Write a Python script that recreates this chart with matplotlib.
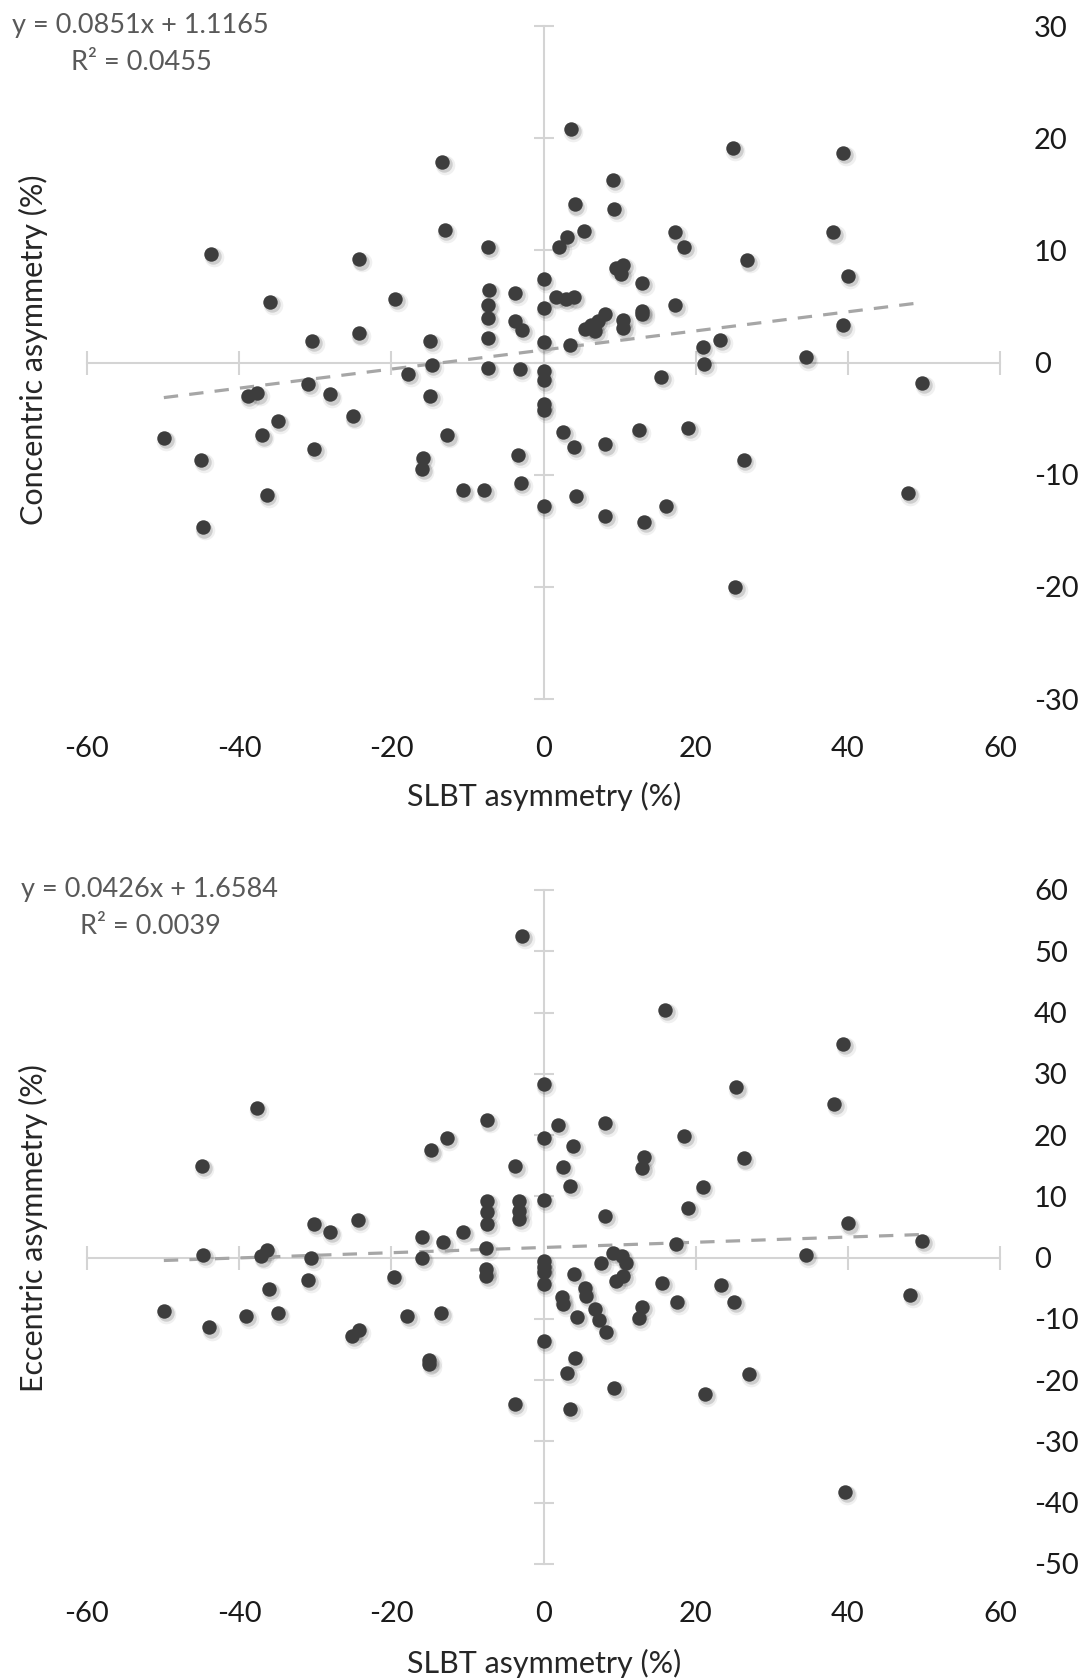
import matplotlib
matplotlib.use('Agg')
import matplotlib.pyplot as plt
import matplotlib.transforms as mtransforms
import numpy as np

plt.rcParams['font.family'] = ['Lato', 'DejaVu Sans']
plt.rcParams['axes.unicode_minus'] = False

# SLBT asymmetry vs concentric asymmetry (top panel)
slbt_conc = [-13.3, -13.0, -7.3, -43.7, -24.2, -35.9, -19.5, -7.2, -3.7, -7.3,
             -7.3, -3.7, -2.8, -7.3, -30.4, -24.3, -14.9, -14.7, -7.3, -3.1,
             -17.8, -30.9, -28.1, -38.9, -37.6, -14.9, -34.9, -25.1, -49.9, -37.0,
             -12.7, -30.1, -45.0, -15.9, -16.0, -3.3, -3.0, -36.4, -10.6, -7.8,
             -44.8,
             0.0, 0.0, 0.0, 0.0, 0.0, 0.0, 0.0, 0.0,
             3.6, 24.9, 39.4, 9.1, 4.1, 9.3, 2.1, 3.1, 5.3, 17.3,
             18.5, 38.1, 26.8, 9.5, 10.5, 10.2, 40.0, 13.0, 1.6, 2.9,
             4.0, 17.3, 13.0, 13.0, 8.1, 7.1, 6.3, 5.5, 6.8, 10.5,
             10.5, 39.3, 3.5, 20.9, 23.2, 21.1, 34.5, 15.5, 49.8, 2.6,
             4.0, 8.1, 12.5, 19.0, 26.3, 4.3, 8.1, 13.2, 16.1, 47.9,
             25.2]
concentric = [17.9, 11.8, 10.3, 9.7, 9.2, 5.4, 5.7, 6.5, 6.2, 5.1,
              4.0, 3.7, 2.9, 2.2, 1.9, 2.6, 1.9, -0.2, -0.45, -0.6,
              -1.0, -1.9, -2.85, -3.0, -2.75, -3.0, -5.2, -4.8, -6.7, -6.5,
              -6.5, -7.7, -8.7, -8.5, -9.5, -8.25, -10.7, -11.8, -11.4, -11.4,
              -14.7,
              7.4, 4.9, 1.8, -0.75, -1.6, -3.7, -4.2, -12.8,
              20.8, 19.1, 18.7, 16.3, 14.1, 13.7, 10.3, 11.2, 11.7, 11.6,
              10.3, 11.6, 9.1, 8.4, 8.7, 7.9, 7.7, 7.1, 5.8, 5.7,
              5.8, 5.1, 4.6, 4.3, 4.3, 3.7, 3.3, 3.0, 2.8, 3.8,
              3.1, 3.3, 1.6, 1.4, 2.0, -0.15, 0.45, -1.3, -1.85, -6.2,
              -7.5, -7.3, -6.0, -5.85, -8.7, -11.9, -13.7, -14.2, -12.8, -11.6,
              -20.0]

# SLBT asymmetry vs eccentric asymmetry (bottom panel)
slbt_ecc = [-2.8, 16.0, 39.4, 0.0, 25.3, 38.2, -37.7, -7.4, 1.9, 8.1,
            -12.7, 0.0, 18.5, 3.9, -14.8, 13.2, 26.3, -44.9, -3.7, 2.5,
            13.0, 3.5, 20.9, 0.0, -7.4, -7.4, -7.4, -3.2, -3.2, -3.2,
            8.1, 19.0, 40.0, -30.1, -28.1, -24.4, -16.0, -13.2, -10.6, -7.5,
            17.4, 49.8, 34.5, -44.7, -37.1, -36.4, -30.5, -16.0, -7.5, -7.5,
            -19.7, -30.9, -36.1, -49.9, -39.1, -34.9, -43.9, -17.9, -13.5, -25.2,
            -24.3, -15.0, -15.0, -3.8, 0.0, 0.0, 0.0, 0.0, 0.0, 9.1,
            10.3, 10.8, 7.6, 9.5, 10.5, 4.0, 5.4, 5.6, 2.4, 2.6,
            4.4, 6.8, 7.3, 8.2, 13.0, 12.5, 15.6, 17.5, 23.3, 25.0,
            48.2, 4.1, 3.1, 9.3, 21.2, 27.0, 3.5, 39.6]
eccentric = [52.5, 40.4, 34.9, 28.3, 27.8, 25.1, 24.4, 22.4, 21.7, 21.9,
             19.6, 19.5, 19.9, 18.2, 17.5, 16.5, 16.2, 15.0, 14.9, 14.8,
             14.7, 11.7, 11.6, 9.4, 9.2, 7.5, 5.5, 9.3, 7.6, 6.3,
             6.8, 8.1, 5.6, 5.5, 4.2, 6.1, 3.4, 2.5, 4.2, 1.6,
             2.2, 2.7, 0.4, 0.4, 0.2, 1.2, 0.0, 0.0, -1.9, -3.0,
             -3.1, -3.6, -5.1, -8.7, -9.5, -9.0, -11.4, -9.5, -9.0, -12.8,
             -11.8, -16.7, -17.4, -23.9, -0.5, -1.6, -2.4, -4.3, -13.6, 0.8,
             0.3, -0.8, -0.8, -3.8, -3.0, -2.6, -4.9, -6.3, -6.5, -7.6,
             -9.7, -8.4, -10.1, -12.1, -8.0, -9.8, -4.1, -7.2, -4.5, -7.2,
             -6.1, -16.3, -18.8, -21.3, -22.2, -19.0, -24.7, -38.2]

# linear trendlines as reported on the chart
conc_slope, conc_icpt, conc_r2 = 0.0851, 1.1165, 0.0455
ecc_slope, ecc_icpt, ecc_r2 = 0.0426, 1.6584, 0.0039

xticks = [-60, -40, -20, 0, 20, 40, 60]
conc_yticks = [-30, -20, -10, 0, 10, 20, 30]
ecc_yticks = [-50, -40, -30, -20, -10, 0, 10, 20, 30, 40, 50, 60]

W, H = 1089, 1678
fig = plt.figure(figsize=(W / 100, H / 100), dpi=100)
fig.patch.set_facecolor('white')

ax1 = fig.add_axes([87 / W, 1 - 699 / H, 913 / W, 673 / H])
ax2 = fig.add_axes([87 / W, 1 - 1564 / H, 913 / W, 674 / H])

axis_grey = '#d4d4d4'


def draw_panel(ax, x, y, slope, icpt, yticks):
    x = np.array(x)
    y = np.array(y)
    # soft shadow under the markers
    for dx, dy, s, a in [(1.8, -2.2, 200, 0.06), (1.3, -1.6, 140, 0.14)]:
        tr = mtransforms.offset_copy(ax.transData, fig=fig, x=dx, y=dy, units='points')
        ax.scatter(x, y, s=s, color='black', alpha=a, lw=0, transform=tr, zorder=2.6)
    xs = np.array([x.min(), x.max()])
    ax.plot(xs, slope * xs + icpt, color='#a6a6a6', lw=2.3,
            ls=(0, (4.5, 3.5)), zorder=2.8)
    ax.scatter(x, y, s=108, color='#3d3d3d', lw=0, zorder=3)

    ax.set_xlim(xticks[0], xticks[-1])
    ax.set_ylim(yticks[0], yticks[-1])
    ax.set_xticks(xticks)
    ax.set_yticks(yticks)

    # the axis lines cross at zero, labels sit on the outer edges
    ax.spines['top'].set_position(('data', 0))
    ax.spines['left'].set_position(('data', 0))
    ax.spines['bottom'].set_visible(False)
    ax.spines['right'].set_visible(False)
    for s in ('top', 'left'):
        ax.spines[s].set_color(axis_grey)
        ax.spines[s].set_linewidth(1.5)
    ax.tick_params(axis='x', bottom=False, top=True, labelbottom=True, labeltop=False,
                   direction='inout', length=17, width=1.5, color=axis_grey,
                   labelsize=21, labelcolor='#1a1a1a', pad=18)
    ax.tick_params(axis='y', left=True, right=False, labelleft=False, labelright=True,
                   direction='inout', length=15, width=1.5, color=axis_grey,
                   labelsize=21, labelcolor='#1a1a1a', pad=17)
    ax.set_facecolor('none')


draw_panel(ax1, slbt_conc, concentric, conc_slope, conc_icpt, conc_yticks)
draw_panel(ax2, slbt_ecc, eccentric, ecc_slope, ecc_icpt, ecc_yticks)

eq_grey = '#595959'
fig.text(12 / W, 1 - 26 / H, 'y = {:.4f}x + {:.4f}'.format(conc_slope, conc_icpt),
         ha='left', va='center', fontsize=19.5, color=eq_grey)
fig.text(71 / W, 1 - 62 / H, 'R² = {:.4f}'.format(conc_r2),
         ha='left', va='center', fontsize=19.5, color=eq_grey)
fig.text(21 / W, 1 - 890 / H, 'y = {:.4f}x + {:.4f}'.format(ecc_slope, ecc_icpt),
         ha='left', va='center', fontsize=19.5, color=eq_grey)
fig.text(80 / W, 1 - 927 / H, 'R² = {:.4f}'.format(ecc_r2),
         ha='left', va='center', fontsize=19.5, color=eq_grey)

fig.text(33 / W, 1 - 350 / H, 'Concentric asymmetry (%)', rotation=90,
         ha='center', va='center', fontsize=22, color='#262626')
fig.text(33 / W, 1 - 1228 / H, 'Eccentric asymmetry (%)', rotation=90,
         ha='center', va='center', fontsize=22, color='#262626')
fig.text(544 / W, 1 - 796 / H, 'SLBT asymmetry (%)',
         ha='center', va='center', fontsize=22, color='#262626')
fig.text(544 / W, 1 - 1663 / H, 'SLBT asymmetry (%)',
         ha='center', va='center', fontsize=22, color='#262626')

fig.savefig('out.png', dpi=100, facecolor='white')
